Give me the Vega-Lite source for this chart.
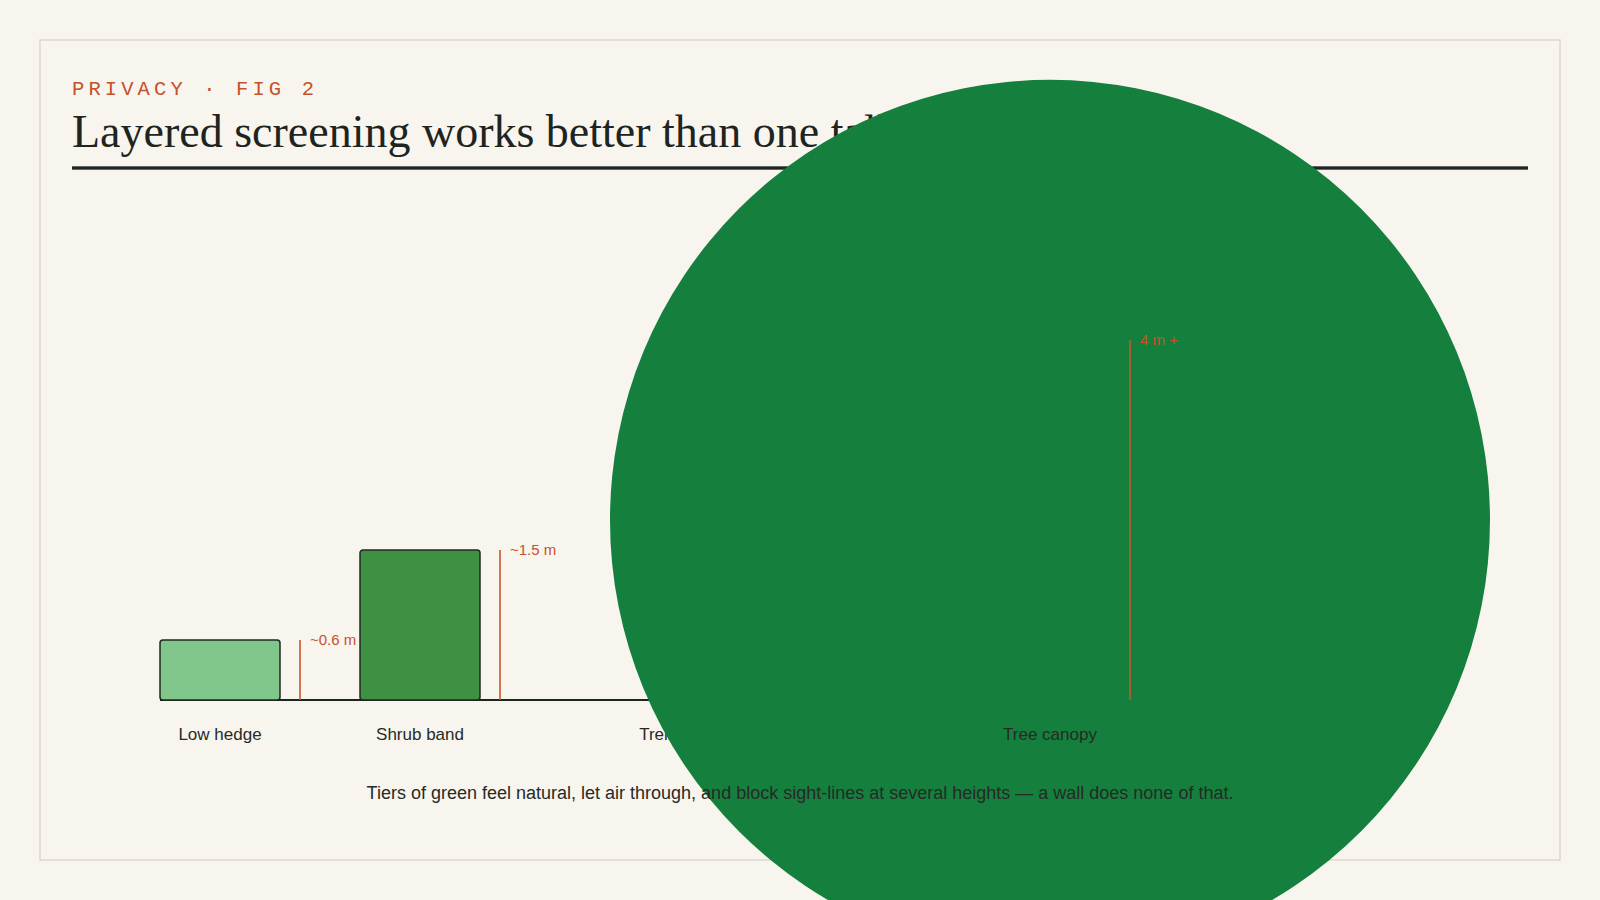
{
  "$schema": "https://vega.github.io/schema/vega-lite/v6.json",
  "width": 1520,
  "height": 820,
  "padding": {"left": 40, "top": 40, "right": 40, "bottom": 40},
  "autosize": {"type": "none"},
  "background": "#f8f5ef",
  "config": {"view": {"stroke": "#dcd8cf", "strokeWidth": 1.5, "fill": "#f8f5ef"}},
  "data": {
    "values": [
      {"order": 1, "layer": "Low hedge", "height": 0.6, "label": "~0.6 m"},
      {"order": 2, "layer": "Shrub band", "height": 1.5, "label": "~1.5 m"},
      {"order": 3, "layer": "Trellis with climbers", "height": 2.2, "label": "~2.2 m"},
      {"order": 4, "layer": "Tree canopy", "height": 3.6, "label": "4 m +"}
    ]
  },
  "layer": [
    {
      "data": {"values": [{"t": "P\u2009R\u2009I\u2009V\u2009A\u2009C\u2009Y\u2009 \u2009\u00b7\u2009 \u2009F\u2009I\u2009G\u2009 \u20092"}]},
      "mark": {"type": "text", "align": "left", "baseline": "alphabetic", "font": "Liberation Mono", "fontSize": 20.5, "color": "#c4522a"},
      "encoding": {
        "x": {"datum": 0, "type": "quantitative", "scale": {"domain": [0, 1, 2, 3, 4, 5], "range": [32, 180, 380, 673, 1010, 1488], "nice": false, "zero": false, "padding": 0}, "axis": null},
        "y": {"datum": 6.05, "type": "quantitative", "scale": {"domain": [-1.6, 6.6], "nice": false, "zero": false}, "axis": null},
        "text": {"field": "t"}
      }
    },
    {
      "data": {"values": [{"t": "Layered screening works better than one tall wall"}]},
      "mark": {"type": "text", "align": "left", "baseline": "alphabetic", "font": "Liberation Serif", "fontSize": 46, "color": "#1e2420"},
      "encoding": {
        "x": {"datum": 0, "type": "quantitative"},
        "y": {"datum": 5.535, "type": "quantitative"},
        "text": {"field": "t"}
      }
    },
    {
      "mark": {"type": "rule", "strokeWidth": 2.5, "color": "#1e2420"},
      "encoding": {
        "x": {"datum": 0, "type": "quantitative"},
        "x2": {"datum": 5},
        "y": {"datum": 5.32, "type": "quantitative"}
      }
    },
    {
      "mark": {"type": "rule", "xOffset": -60, "x2Offset": 60, "strokeWidth": 2, "color": "#1e2420"},
      "encoding": {
        "x": {"datum": 1, "type": "quantitative"},
        "x2": {"datum": 4},
        "y": {"datum": 0, "type": "quantitative"}
      }
    },
    {
      "transform": [{"filter": "datum.layer != 'Tree canopy'"}],
      "mark": {"type": "bar", "width": 120, "cornerRadius": 3, "stroke": "#1f2a20", "strokeWidth": 1.5},
      "encoding": {
        "x": {"field": "order", "type": "quantitative"},
        "y": {"field": "height", "type": "quantitative"},
        "y2": {"datum": 0},
        "color": {"field": "layer", "type": "nominal", "legend": null,
          "scale": {"domain": ["Low hedge", "Shrub band", "Trellis with climbers", "Tree canopy"], "range": ["#80c68a", "#3e9142", "#2e7d32", "#15803d"]}}
      }
    },
    {
      "transform": [{"filter": "datum.layer != 'Tree canopy'"}],
      "mark": {"type": "rule", "xOffset": 80, "strokeWidth": 1.6, "color": "#c8552b"},
      "encoding": {
        "x": {"field": "order", "type": "quantitative"},
        "y": {"field": "height", "type": "quantitative"},
        "y2": {"datum": 0}
      }
    },
    {
      "transform": [{"filter": "datum.layer != 'Tree canopy'"}],
      "mark": {"type": "text", "xOffset": 90, "align": "left", "baseline": "middle", "font": "Liberation Sans", "fontSize": 15, "color": "#c4522a"},
      "encoding": {
        "x": {"field": "order", "type": "quantitative"},
        "y": {"field": "height", "type": "quantitative"},
        "text": {"field": "label"}
      }
    },
    {
      "transform": [{"filter": "datum.layer != 'Tree canopy'"}],
      "mark": {"type": "text", "dy": 35, "align": "center", "baseline": "middle", "font": "Liberation Sans", "fontSize": 17, "color": "#262a26"},
      "encoding": {
        "x": {"field": "order", "type": "quantitative"},
        "y": {"datum": 0, "type": "quantitative"},
        "text": {"field": "layer"}
      }
    },
    {
      "transform": [{"filter": "datum.layer == 'Tree canopy'"}],
      "mark": {"type": "point", "shape": "circle", "filled": true, "opacity": 1, "size": 774400, "color": "#15803d", "strokeWidth": 0},
      "encoding": {
        "x": {"field": "order", "type": "quantitative"},
        "y": {"datum": 1.8, "type": "quantitative"}
      }
    },
    {
      "transform": [{"filter": "datum.layer == 'Tree canopy'"}],
      "mark": {"type": "rule", "xOffset": 80, "strokeWidth": 1.6, "color": "#c8552b"},
      "encoding": {
        "x": {"field": "order", "type": "quantitative"},
        "y": {"field": "height", "type": "quantitative"},
        "y2": {"datum": 0}
      }
    },
    {
      "transform": [{"filter": "datum.layer == 'Tree canopy'"}],
      "mark": {"type": "text", "xOffset": 90, "align": "left", "baseline": "middle", "font": "Liberation Sans", "fontSize": 15, "color": "#c4522a"},
      "encoding": {
        "x": {"field": "order", "type": "quantitative"},
        "y": {"field": "height", "type": "quantitative"},
        "text": {"field": "label"}
      }
    },
    {
      "transform": [{"filter": "datum.layer == 'Tree canopy'"}],
      "mark": {"type": "text", "dy": 35, "align": "center", "baseline": "middle", "font": "Liberation Sans", "fontSize": 17, "color": "#262a26"},
      "encoding": {
        "x": {"field": "order", "type": "quantitative"},
        "y": {"datum": 0, "type": "quantitative"},
        "text": {"field": "layer"}
      }
    },
    {
      "data": {"values": [{"caption": "Tiers of green feel natural, let air through, and block sight-lines at several heights \u2014 a wall does none of that."}]},
      "mark": {"type": "text", "align": "center", "baseline": "middle", "font": "Liberation Sans", "fontSize": 18, "color": "#262a26"},
      "encoding": {
        "y": {"datum": -0.94, "type": "quantitative"},
        "text": {"field": "caption"}
      }
    }
  ]
}
